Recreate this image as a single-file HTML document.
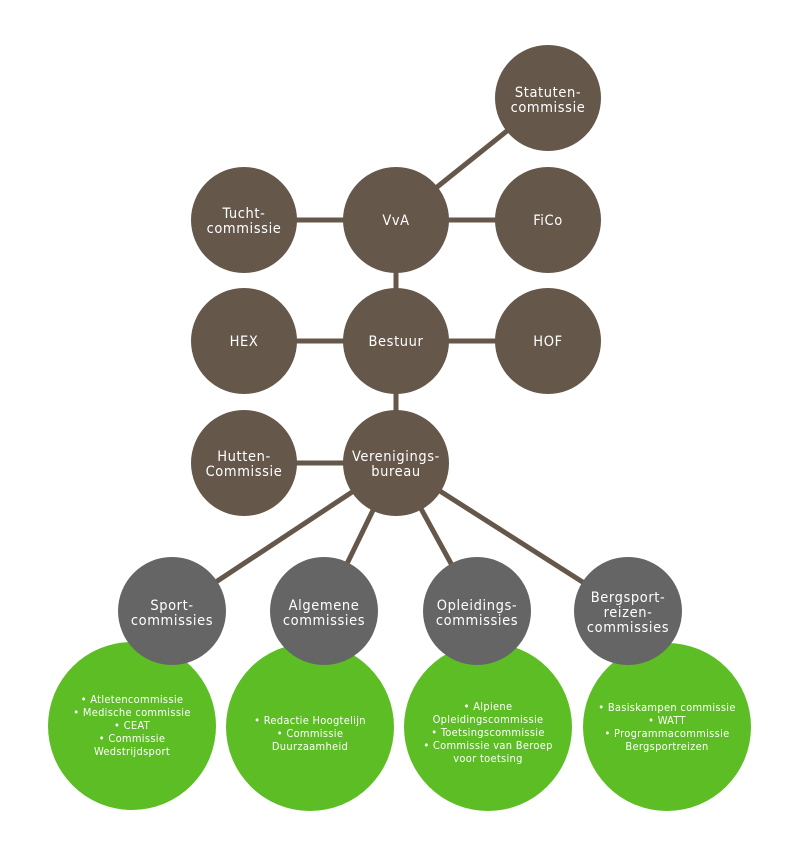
<!DOCTYPE html>
<html><head><meta charset="utf-8"><style>
html,body{margin:0;padding:0;background:#fff;}
svg text{font-family:"DejaVu Sans Condensed","Liberation Sans",sans-serif;fill:#fff;text-anchor:middle;}
.b{font-size:14.5px;letter-spacing:0.6px}
.g{font-size:11px;letter-spacing:0.3px}
</style></head><body>
<svg width="800" height="858" viewBox="0 0 800 858" xmlns="http://www.w3.org/2000/svg">
<g stroke="#65574a" stroke-width="5">
<line x1="396" y1="220" x2="548" y2="98"/>
<line x1="244" y1="220" x2="548" y2="220"/>
<line x1="396" y1="220" x2="396" y2="463"/>
<line x1="244" y1="341" x2="548" y2="341"/>
<line x1="244" y1="463" x2="396" y2="463"/>
<line x1="396" y1="463" x2="172" y2="611"/>
<line x1="396" y1="463" x2="324" y2="611"/>
<line x1="396" y1="463" x2="477" y2="611"/>
<line x1="396" y1="463" x2="628" y2="611"/>
</g>
<g fill="#65574a">
<circle cx="548" cy="98" r="53"/>
<circle cx="244" cy="220" r="53"/><circle cx="396" cy="220" r="53"/><circle cx="548" cy="220" r="53"/>
<circle cx="244" cy="341" r="53"/><circle cx="396" cy="341" r="53"/><circle cx="548" cy="341" r="53"/>
<circle cx="244" cy="463" r="53"/><circle cx="396" cy="463" r="53"/>
</g>
<g fill="#5dbd24">
<circle cx="132" cy="726" r="84"/><circle cx="310" cy="727" r="84"/>
<circle cx="488" cy="727" r="84"/><circle cx="667" cy="727" r="84"/>
</g>
<g fill="#656565">
<circle cx="172" cy="611" r="54"/><circle cx="324" cy="611" r="54"/>
<circle cx="477" cy="611" r="54"/><circle cx="628" cy="611" r="54"/>
</g>
<g class="b">
<text x="548" y="97">Statuten-</text><text x="548" y="112">commissie</text>
<text x="244" y="218">Tucht-</text><text x="244" y="233">commissie</text>
<text x="396" y="225">VvA</text>
<text x="548" y="225">FiCo</text>
<text x="244" y="346">HEX</text>
<text x="396" y="346">Bestuur</text>
<text x="548" y="346">HOF</text>
<text x="244" y="461">Hutten-</text><text x="244" y="476">Commissie</text>
<text x="396" y="461">Verenigings-</text><text x="396" y="476">bureau</text>
<text x="172" y="610">Sport-</text><text x="172" y="625">commissies</text>
<text x="324" y="610">Algemene</text><text x="324" y="625">commissies</text>
<text x="477" y="610">Opleidings-</text><text x="477" y="625">commissies</text>
<text x="628" y="602">Bergsport-</text><text x="628" y="617">reizen-</text><text x="628" y="632">commissies</text>
</g>
<g class="g">
<text x="132" y="703">• Atletencommissie</text>
<text x="132" y="716">• Medische commissie</text>
<text x="132" y="729">• CEAT</text>
<text x="132" y="742">• Commissie</text>
<text x="132" y="755">Wedstrijdsport</text>
<text x="310" y="724">• Redactie Hoogtelijn</text>
<text x="310" y="737">• Commissie</text>
<text x="310" y="750">Duurzaamheid</text>
<text x="488" y="710">• Alpiene</text>
<text x="488" y="723">Opleidingscommissie</text>
<text x="488" y="736">• Toetsingscommissie</text>
<text x="488" y="749">• Commissie van Beroep</text>
<text x="488" y="762">voor toetsing</text>
<text x="667" y="711">• Basiskampen commissie</text>
<text x="667" y="724">• WATT</text>
<text x="667" y="737">• Programmacommissie</text>
<text x="667" y="750">Bergsportreizen</text>
</g>
</svg>
</body></html>
